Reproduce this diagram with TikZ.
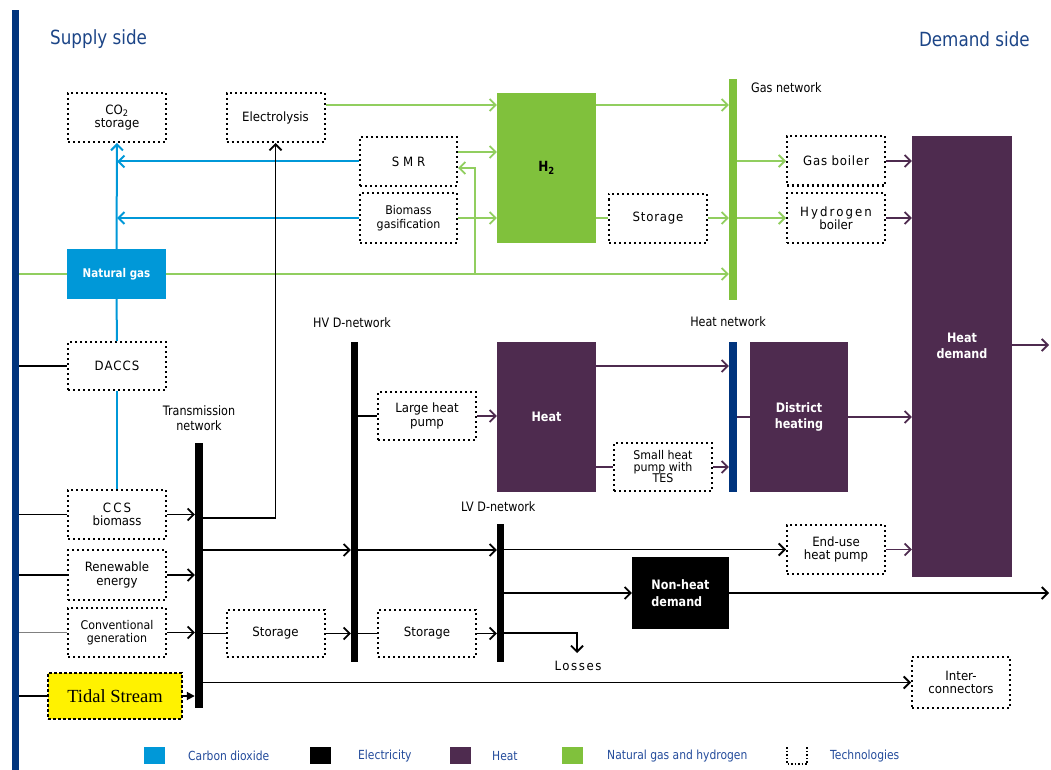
\documentclass[tikz,border=0pt]{standalone}
\usepackage{fontspec}
\setmainfont{DejaVu Sans}
\newfontfamily\boxf[FakeStretch=0.92]{DejaVu Sans}
\newfontfamily\netf[FakeStretch=0.86]{DejaVu Sans}
\newfontfamily\tidalf{Liberation Serif}
\usetikzlibrary{arrows.meta}
\definecolor{navy}{RGB}{0,52,125}
\definecolor{cblue}{RGB}{0,152,216}
\definecolor{ngreen}{RGB}{128,193,60}
\definecolor{lgreen}{RGB}{145,206,95}
\definecolor{hpurple}{RGB}{78,43,79}
\definecolor{ltext}{RGB}{35,75,155}
\definecolor{ttext}{RGB}{28,69,135}
\tikzset{
  tech/.style={draw, line width=2pt, line cap=butt, dash pattern=on 2pt off 3pt,
    minimum width=98, minimum height=49, inner sep=1pt, align=center,
    font=\boxf\fontsize{12.8}{13.5}\selectfont},
  blk/.style={inner sep=1pt, align=center, text=white, font=\netf\bfseries\fontsize{13}{16.5}\selectfont},
  barnode/.style={inner sep=0pt, minimum width=8},
  netlbl/.style={font=\netf\fontsize{13}{15.5}\selectfont, inner sep=0pt, align=center},
  sidelbl/.style={font=\netf\fontsize{19.5}{21}\selectfont, text=ttext, inner sep=0pt},
  leglbl/.style={font=\netf\fontsize{12.5}{14}\selectfont, text=ltext, inner sep=0pt, anchor=west},
  legsq/.style={inner sep=0pt, minimum width=21, minimum height=17},
  el/.style={black, line width=1.8pt},
  co/.style={cblue, line width=2pt},
  ng/.style={lgreen, line width=1.8pt},
  ht/.style={hpurple, line width=1.8pt},
  >={Straight Barb[length=6pt,width=12pt]},
}
\begin{document}
\begin{tikzpicture}[x=1pt,y=-1pt]
\useasboundingbox (0,0) rectangle (1051,770);
% left bar
\node[fill=navy, inner sep=0pt, minimum width=7, minimum height=760] (lb) at (15.5,390) {};
% headings
\node[sidelbl, anchor=west] (sup) at (50,39) {Supply side};
\node[sidelbl, anchor=east] (dem) at (1030,39) {Demand side};
% nodes
\node[tech] (co2) at (117,117.5) {CO\textsubscript{2}\\storage};
\node[tech] (elec) at (275.5,117.5) {Electrolysis};
\node[tech, minimum width=97] (smr) at (408.5,161.5) {\addfontfeature{LetterSpace=30}SMR};
\node[tech, minimum width=97, minimum height=50, font=\boxf\fontsize{12}{13.5}\selectfont] (bg) at (408.5,218) {Biomass\\gasification};
\node[blk, fill=ngreen, minimum width=99, minimum height=150, text=black, font=\netf\bfseries\fontsize{14}{16}\selectfont] (h2) at (546.5,168) {H\textsubscript{2}};
\node[tech] (h2s) at (658,218) {\addfontfeature{LetterSpace=6}Storage};
\node[barnode, fill=ngreen, minimum height=221] (gn) at (733,189.5) {};
\node[netlbl, anchor=west] (gnl) at (751,88) {Gas network};
\node[tech] (gb) at (836,161) {\addfontfeature{LetterSpace=6}Gas boiler};
\node[tech, minimum height=50] (hb) at (836,218) {\addfontfeature{LetterSpace=16}Hydrogen\\boiler};
\node[blk, fill=hpurple, minimum width=100, minimum height=441] (hd) at (962,356.5) {};
\node[blk] (hdl) at (962,346) {Heat\\demand};
\node[blk, fill=cblue, minimum width=99, minimum height=50, font=\netf\bfseries\fontsize{12}{13}\selectfont] (ng) at (116.5,274) {Natural gas};
\node[tech, minimum height=48] (dac) at (117,366) {\addfontfeature{LetterSpace=8}DACCS};
\node[netlbl, anchor=west] (hvl) at (313,323) {HV D-network};
\node[barnode, fill=black, minimum width=7, minimum height=320] (hv) at (354.5,502) {};
\node[tech, minimum height=48] (lhp) at (427,416) {Large heat\\pump};
\node[blk, fill=hpurple, minimum width=99, minimum height=150] (heat) at (546.5,417) {Heat};
\node[tech, minimum height=48, font=\boxf\fontsize{12}{11.5}\selectfont] (shp) at (663,467) {Small heat\\pump with\\TES};
\node[netlbl] (hnl) at (728,322) {Heat network};
\node[barnode, fill=navy, minimum height=150] (hn) at (733,417) {};
\node[blk, fill=hpurple, minimum width=98, minimum height=150] (dh) at (799,417) {District\\heating};
\node[netlbl] (tnl) at (199,418) {Transmission\\network};
\node[barnode, fill=black, minimum height=265] (tn) at (199,575.5) {};
\node[tech] (ccs) at (117,514.5) {\addfontfeature{LetterSpace=16}CCS\\biomass};
\node[tech, minimum height=50] (ren) at (117,575) {Renewable\\energy};
\node[tech, font=\boxf\fontsize{12}{13.5}\selectfont] (conv) at (117,632.5) {Conventional\\generation};
\node[tech, minimum height=47] (s1) at (275.5,633.5) {Storage};
\node[tech, minimum height=47] (s2) at (427,633.5) {Storage};
\node[draw, fill=yellow, line width=1.2pt, dash pattern=on 3pt off 2pt, minimum width=134, minimum height=46, inner sep=0pt, font=\tidalf\fontsize{18.5}{20}\selectfont] (td) at (115,696) {Tidal Stream};
\node[netlbl, anchor=west] (lvl) at (461,507) {LV D-network};
\node[barnode, fill=black, minimum width=7, minimum height=138] (lv) at (500.5,593) {};
\node[tech] (eu) at (836,549.5) {End-use\\heat pump};
\node[blk, fill=black, minimum width=97, minimum height=72, align=left] (nh) at (680.5,593) {Non-heat\\demand};
\node[tech, minimum height=51] (ic) at (961,682.5) {Inter-\\connectors};
\node[font=\boxf\fontsize{12.8}{13}\selectfont, inner sep=0pt] (losstxt) at (578,666) {\addfontfeature{LetterSpace=12}Losses};
% free ends
\coordinate (hdout) at (1049,345);
\coordinate (nhout) at (1049,593);
\coordinate (jn) at (475,274);
\coordinate (loss) at (577,653);
% ---- green connectors
\draw[ng] (lb.east |- ng.west) -- (ng.west);
\draw[ng,->] (ng.east) -- (gn.west |- ng.east);
\draw[ng,->] (jn) |- (smr.east |- 0,168);
\draw[ng,->] (elec.east |- 0,105) -- (h2.west |- 0,105);
\draw[ng,->] (smr.east |- 0,152) -- (h2.west |- 0,152);
\draw[ng,->] (bg.east) -- (h2.west |- bg.east);
\draw[ng,->] (h2.east |- 0,105) -- (gn.west |- 0,105);
\draw[ng] (h2.east |- h2s.west) -- (h2s.west);
\draw[ng,->] (h2s.east) -- (gn.west |- h2s.east);
\draw[ng,->] (gn.east |- gb.west) -- (gb.west);
\draw[ng,->] (gn.east |- hb.west) -- (hb.west);
% ---- CO2 connectors
\draw[co,->] (ng.north) -- (co2.south);
\draw[co,->] (smr.west) -- (co2.south |- smr.west);
\draw[co,->] (bg.west) -- (co2.south |- bg.west);
\draw[co] (dac.north) -- (ng.south);
\draw[co] (ccs.north) -- (dac.south);
% ---- electricity
\draw[el] (lb.east |- dac.west) -- (dac.west);
\draw[el] (lb.east |- ccs.west) -- (ccs.west);
\draw[el] (lb.east |- ren.west) -- (ren.west);
\draw[gray, line width=1.1pt] (lb.east |- conv.west) -- (conv.west);
\draw[el] (lb.east |- td.west) -- (td.west);
\draw[el,->] (ccs.east) -- (tn.west |- ccs.east);
\draw[el,->] (ren.east) -- (tn.west |- ren.east);
\draw[el,->] (conv.east) -- (tn.west |- conv.east);
\draw[el,-{Triangle[length=8pt,width=8pt]}] (td.east) -- (tn.west |- td.east);
\draw[el,->] (tn.east |- 0,518) -| (elec.south);
\draw[el,->] (tn.east |- 0,550) -- (hv.west |- 0,550);
\draw[el] (tn.east |- s1.west) -- (s1.west);
\draw[el,->] (s1.east) -- (hv.west |- s1.east);
\draw[el,->] (tn.east |- ic.west) -- (ic.west);
\draw[el] (hv.east |- lhp.west) -- (lhp.west);
\draw[el,->] (hv.east |- 0,550) -- (lv.west |- 0,550);
\draw[el] (hv.east |- s2.west) -- (s2.west);
\draw[el,->] (s2.east) -- (lv.west |- s2.east);
\draw[el,->] (lv.east |- eu.west) -- (eu.west);
\draw[el,->] (lv.east |- nh.west) -- (nh.west);
\draw[el,->] (lv.east |- 0,633) -| (loss);
\draw[el,->] (nh.east) -- (nhout);
% ---- heat
\draw[ht,->] (lhp.east) -- (heat.west |- lhp.east);
\draw[ht,->] (heat.east |- 0,366) -- (hn.west |- 0,366);
\draw[ht] (heat.east |- shp.west) -- (shp.west);
\draw[ht,->] (shp.east) -- (hn.west |- shp.east);
\draw[ht] (hn.east) -- (dh.west);
\draw[ht,->] (dh.east) -- (hd.west |- dh.east);
\draw[ht,->] (gb.east) -- (hd.west |- gb.east);
\draw[ht,->] (hb.east) -- (hd.west |- hb.east);
\draw[ht,->] (eu.east) -- (hd.west |- eu.east);
\draw[ht,->] (hd.east |- hdout) -- (hdout);
% ---- legend
\node[legsq, fill=cblue] (lg1) at (154.5,755.5) {};
\node[leglbl] (lt1) at (188,756) {Carbon dioxide};
\node[legsq, fill=black] (lg2) at (320.5,755.5) {};
\node[leglbl] (lt2) at (358,756) {Electricity};
\node[legsq, fill=hpurple] (lg3) at (460,755.5) {};
\node[leglbl] (lt3) at (492,756) {Heat};
\node[legsq, fill=ngreen] (lg4) at (572,755.5) {};
\node[leglbl] (lt4) at (607,756) {Natural gas and hydrogen};
\draw[line width=1.5pt, dash pattern=on 1.5pt off 2pt] (787,747) -- (787,764) -- (807,764) -- (807,747);
\node[leglbl] (lt5) at (830,756) {Technologies};
\end{tikzpicture}
\end{document}
